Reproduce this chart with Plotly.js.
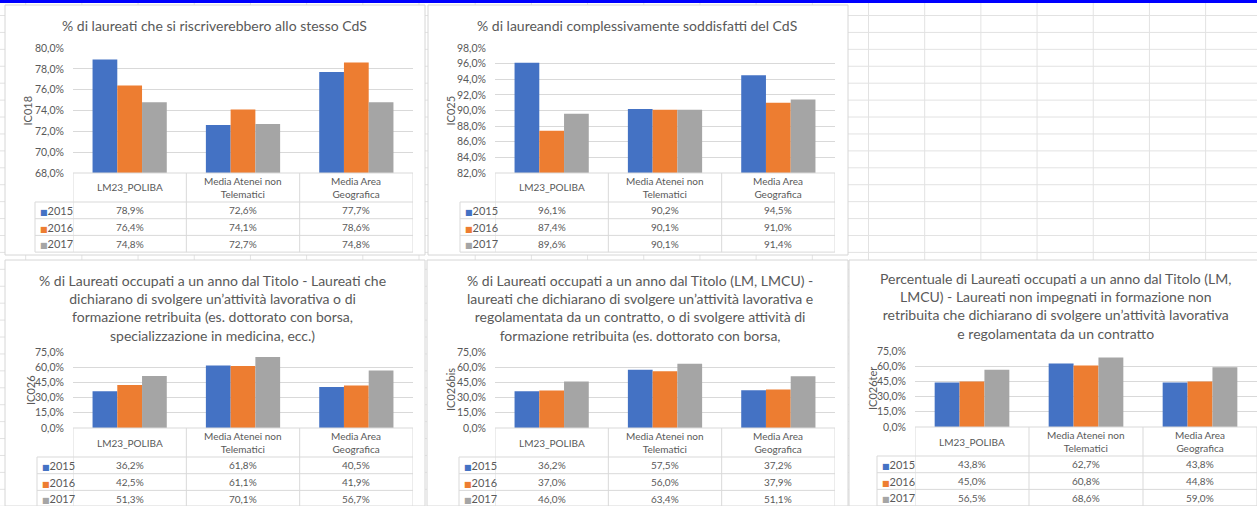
<!DOCTYPE html>
<html>
<head>
<meta charset="utf-8">
<script src="https://cdn.plot.ly/plotly-3.0.1.min.js"></script>
<style>
  html, body { margin:0; padding:0; }
  body {
    width:1257px; height:506px; overflow:hidden; position:relative;
    background-color:#ffffff;
    background-image:
      linear-gradient(to right, #e2e2e2 1px, transparent 1px),
      linear-gradient(to bottom, #e2e2e2 1px, transparent 1px);
    background-size: 56.2px 16.93px;
    background-position: 868px 15px;
  }
  #topbar { position:absolute; left:0; top:0; width:1257px; height:3px; background:#0000ff; z-index:5; }
  #chart { position:absolute; left:0; top:0; width:1257px; height:506px; }
</style>
</head>
<body>
<div id="topbar"></div>
<div id="chart"></div>
<script>
// ---------------- DATA ----------------
const categories = ['LM23_POLIBA', 'Media Atenei non Telematici', 'Media Area Geografica'];
const headerLabels = ['LM23_POLIBA', 'Media Atenei non<br>Telematici', 'Media Area<br>Geografica'];
const years = ['2015', '2016', '2017'];

const ic018_2015 = [78.9, 72.6, 77.7];
const ic018_2016 = [76.4, 74.1, 78.6];
const ic018_2017 = [74.8, 72.7, 74.8];

const ic025_2015 = [96.1, 90.2, 94.5];
const ic025_2016 = [87.4, 90.1, 91.0];
const ic025_2017 = [89.6, 90.1, 91.4];

const ic026_2015 = [36.2, 61.8, 40.5];
const ic026_2016 = [42.5, 61.1, 41.9];
const ic026_2017 = [51.3, 70.1, 56.7];

const ic026bis_2015 = [36.2, 57.5, 37.2];
const ic026bis_2016 = [37.0, 56.0, 37.9];
const ic026bis_2017 = [46.0, 63.4, 51.1];

const ic026ter_2015 = [43.8, 62.7, 43.8];
const ic026ter_2016 = [45.0, 60.8, 44.8];
const ic026ter_2017 = [56.5, 68.6, 59.0];

const indicatorNames = ['IC018', 'IC025', 'IC026', 'IC026bis', 'IC026ter'];
const chartTitles = [
  '% di laureati che si riscriverebbero allo stesso CdS',
  '% di laureandi complessivamente soddisfatti del CdS',
  '% di Laureati occupati a un anno dal Titolo - Laureati che<br>dichiarano di svolgere un\u2019attivit\u00e0 lavorativa o di<br>formazione retribuita (es. dottorato con borsa,<br>specializzazione in medicina, ecc.)',
  '% di Laureati occupati a un anno dal Titolo (LM, LMCU) -<br>laureati che dichiarano di svolgere un\u2019attivit\u00e0 lavorativa e<br>regolamentata da un contratto, o di svolgere attivit\u00e0 di<br>formazione retribuita (es. dottorato con borsa,',
  'Percentuale di Laureati occupati a un anno dal Titolo (LM,<br>LMCU) - Laureati non impegnati in formazione non<br>retribuita che dichiarano di svolgere un\u2019attivit\u00e0 lavorativa<br>e regolamentata da un contratto'
];
const seriesByChart = [
  [ic018_2015, ic018_2016, ic018_2017],
  [ic025_2015, ic025_2016, ic025_2017],
  [ic026_2015, ic026_2016, ic026_2017],
  [ic026bis_2015, ic026bis_2016, ic026bis_2017],
  [ic026ter_2015, ic026ter_2016, ic026ter_2017]
];

// ---------------- STYLE / LAYOUT ----------------
const W = 1257, H = 506;
const fx = p => p / W;
const fy = p => 1 - p / H;
const yearColors = ['#4472C4', '#ED7D31', '#A5A5A5'];
const textGray = '#595959';
const lineGray = '#d9d9d9';
const FONT = 'Lato, "Open Sans", "DejaVu Sans", sans-serif';

const panels = [
  {box:[5,5,425,255],    plot:[73,48,413,173],   titleX:214,  titleY:25,    yTitleX:27,  legL:35,  range:[68,80], dtick:2},
  {box:[428,5,848,255],  plot:[495,48,835,173],  titleX:637,  titleY:25,    yTitleX:450, legL:460, range:[82,98], dtick:2},
  {box:[5,260,425,506],  plot:[73,352,413,428],  titleX:212,  titleY:307.5, yTitleX:30,  legL:37,  range:[0,75],  dtick:15},
  {box:[427,260,848,506],plot:[495,352,835,428], titleX:640,  titleY:307.5, yTitleX:450, legL:459, range:[0,75],  dtick:15},
  {box:[849,260,1262,506],plot:[915,351,1257,427],titleX:1055, titleY:305.5, yTitleX:872, legL:877, range:[0,75],  dtick:15}
];
const headH = 29, rowH = 16.7;

const fmt = v => v.toFixed(1).replace('.', ',') + '%';

const traces = [];
const shapes = [];
const annotations = [];
const layout = {
  width: W, height: H,
  margin: {l:0, r:0, t:0, b:0},
  paper_bgcolor: 'rgba(0,0,0,0)',
  plot_bgcolor: 'rgba(0,0,0,0)',
  separators: ',.',
  barmode: 'group',
  bargap: 0.345,
  bargroupgap: 0,
  showlegend: false,
  font: {family: FONT, color: textGray}
};

panels.forEach((p, k) => {
  const n = k + 1;
  const xa = 'x' + n, ya = 'y' + n;
  const [L, T, R, B] = p.plot;
  // panel background
  shapes.push({type:'rect', xref:'paper', yref:'paper', layer:'below',
    x0: fx(p.box[0]), x1: fx(p.box[2]), y0: fy(p.box[3]), y1: fy(p.box[1]),
    fillcolor:'#ffffff', line:{color:'#d6d6d6', width:1}});

  layout['xaxis' + n] = {domain:[fx(L), fx(R)], anchor: ya, range:[-0.5, 2.5],
    showticklabels:false, showgrid:false, zeroline:false, showline:false, fixedrange:true, type:'category'};
  layout['yaxis' + n] = {domain:[fy(B), fy(T)], anchor: xa, range: p.range, dtick: p.dtick,
    tickformat:'.1f', ticksuffix:'%', showgrid:true, gridcolor: lineGray, gridwidth:1,
    zeroline:false, showline:false, ticks:'', ticklabelstandoff: 8,
    tickfont:{family: FONT, size:10.5, color: textGray}, fixedrange:true};

  seriesByChart[k].forEach((vals, i) => {
    traces.push({type:'bar', x: categories, y: vals, name: years[i], xaxis: xa, yaxis: ya,
      marker:{color: yearColors[i]}, hoverinfo:'skip'});
  });

  // title
  annotations.push({xref:'paper', yref:'paper', x: fx(p.titleX), y: fy(p.titleY),
    xanchor:'center', yanchor:'middle', showarrow:false, align:'center',
    text: chartTitles[k], font:{family: FONT, size:14, color: textGray}});
  // y axis title
  annotations.push({xref:'paper', yref:'paper', x: fx(p.yTitleX), y: fy((T + B) / 2),
    xanchor:'center', yanchor:'middle', showarrow:false, textangle:-90,
    text: indicatorNames[k], font:{family: FONT, size:11, color: textGray}});

  // data table
  const headB = B + headH;
  const tableB = headB + rowH * 3;
  shapes.push({type:'line', xref:'paper', yref:'paper', x0: fx(L), x1: fx(R), y0: fy(B), y1: fy(B),
    line:{color: lineGray, width:1}});
  for (let r = 0; r <= 3; r++) {
    const yy = headB + rowH * r;
    shapes.push({type:'line', xref:'paper', yref:'paper', x0: fx(p.legL), x1: fx(R), y0: fy(yy), y1: fy(yy),
      line:{color: lineGray, width:1}});
  }
  for (let j = 0; j <= categories.length; j++) {
    shapes.push({type:'line', xref: xa, yref:'paper', x0: j - 0.5, x1: j - 0.5, y0: fy(B), y1: fy(tableB),
      line:{color: lineGray, width:1}});
  }
  shapes.push({type:'line', xref:'paper', yref:'paper', x0: fx(p.legL), x1: fx(p.legL), y0: fy(headB), y1: fy(tableB),
    line:{color: lineGray, width:1}});

  headerLabels.forEach((lab, j) => {
    annotations.push({xref: xa, yref:'paper', x: j, y: fy(B + headH / 2), xanchor:'center', yanchor:'middle',
      showarrow:false, align:'center', text: lab, font:{family: FONT, size:10, color: textGray}});
  });
  years.forEach((yr, i) => {
    const yc = fy(headB + rowH * (i + 0.5));
    annotations.push({xref:'paper', yref:'paper', x: fx(p.legL + 3), y: yc, xanchor:'left', yanchor:'middle',
      showarrow:false, text: '<span style="color:' + yearColors[i] + ';font-size:8px">\u25A0</span>' + yr,
      font:{family: FONT, size:11, color: textGray}});
    seriesByChart[k][i].forEach((v, j) => {
      annotations.push({xref: xa, yref:'paper', x: j, y: yc, xanchor:'center', yanchor:'middle',
        showarrow:false, text: fmt(v), font:{family: FONT, size:10, color: textGray}});
    });
  });
});

layout.shapes = shapes;
layout.annotations = annotations;

Plotly.newPlot('chart', traces, layout, {staticPlot:true, displayModeBar:false});
</script>
</body>
</html>
